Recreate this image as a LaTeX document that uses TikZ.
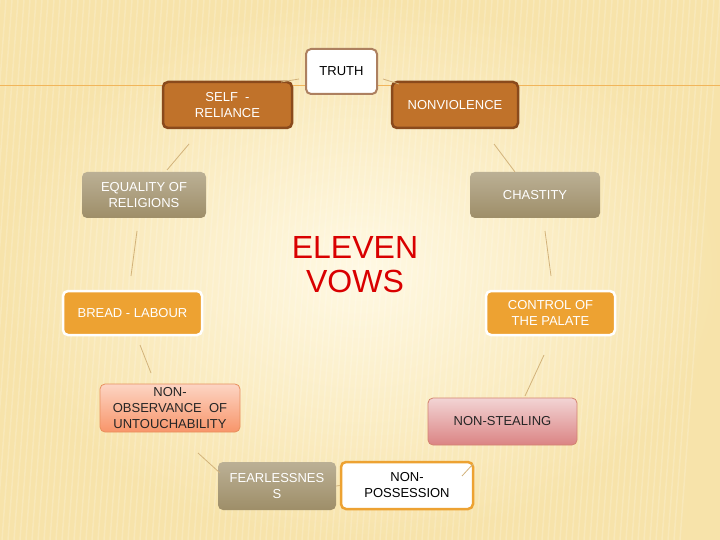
\documentclass[tikz,border=0pt]{standalone}
\usepackage{fontspec}
\setmainfont{Liberation Sans}
\definecolor{bgin}{HTML}{FFF9E4}
\definecolor{bgout}{HTML}{F7E3AA}
\definecolor{brownf}{HTML}{C0722A}
\definecolor{brownd}{HTML}{8A4A1C}
\definecolor{olive}{HTML}{9E8E68}
\definecolor{orangef}{HTML}{EDA232}
\definecolor{salmon}{HTML}{F8956A}
\definecolor{pinkf}{HTML}{DB8484}
\definecolor{conn}{HTML}{D2B27A}
\begin{document}
\begin{tikzpicture}[x=1pt,y=-1pt,
  box/.style={rounded corners=5pt,align=center,font=\fontsize{13}{16}\selectfont,inner sep=2pt},
  link/.style={conn,line width=0.8pt}]
\fill[inner color=bgin,outer color=bgout] (0,0) rectangle (720,540);
\useasboundingbox (0,0) rectangle (720,540);
\foreach \i in {0,6,...,720} \draw[white,opacity=0.18,line width=1.5pt] (\i,0) -- (\i-40,540);
\draw[orangef!80,line width=1pt] (0,86) -- (720,86);
% nodes
\node[box,draw=brownd!70,line width=2pt,fill=white,minimum width=71pt,minimum height=45pt] (truth) at (341.5,71.5) {TRUTH};
\node[box,draw=brownd,line width=2.5pt,fill=brownf,text=white,minimum width=129pt,minimum height=46pt] (sr) at (227.5,105) {SELF\ \ -\\RELIANCE};
\node[box,draw=brownd,line width=2.5pt,fill=brownf,text=white,minimum width=126pt,minimum height=46pt] (nv) at (455,105) {NONVIOLENCE};
\node[box,top color=olive!70,bottom color=olive,text=white,minimum width=124pt,minimum height=46pt] (eq) at (144,195) {EQUALITY OF\\RELIGIONS};
\node[box,top color=olive!70,bottom color=olive,text=white,minimum width=130pt,minimum height=46pt] (ch) at (535,195) {CHASTITY};
\node[box,draw=white,line width=2.5pt,fill=orangef,text=white,minimum width=139pt,minimum height=44pt] (br) at (132.5,313) {BREAD - LABOUR};
\node[box,draw=white,line width=2.5pt,fill=orangef,text=white,minimum width=129pt,minimum height=44pt] (co) at (550.5,313) {CONTROL OF\\THE PALATE};
\node[box,draw=salmon!70!brown,line width=0.8pt,top color=salmon!40,bottom color=salmon,text=black!85,minimum width=140pt,minimum height=48pt] (no) at (170,408) {NON-\\OBSERVANCE\ \ OF\\UNTOUCHABILITY};
\node[box,draw=pinkf!70!brown,line width=0.8pt,top color=pinkf!35,bottom color=pinkf,text=black!85,minimum width=149pt,minimum height=47pt] (ns) at (502.5,421.5) {NON-STEALING};
\node[box,top color=olive!70,bottom color=olive,text=white,minimum width=118pt,minimum height=48pt] (fe) at (277,486) {FEARLESSNES\\S};
\node[box,draw=orangef,line width=2.5pt,fill=white,minimum width=132pt,minimum height=47pt] (np) at (407,485.5) {NON-\\POSSESSION};
\node[text=red!85!black,align=center,font=\fontsize{32}{34}\selectfont] (title) at (355,265) {ELEVEN\\VOWS};
% connector end points
\coordinate (a1) at (281,82); \coordinate (a2) at (299,79);
\coordinate (b1) at (383,79); \coordinate (b2) at (399,84);
\coordinate (c1) at (189,144); \coordinate (c2) at (167,170);
\coordinate (d1) at (494,144); \coordinate (d2) at (515,172);
\coordinate (e1) at (137,231); \coordinate (e2) at (131,276);
\coordinate (f1) at (545,231); \coordinate (f2) at (551,276);
\coordinate (g1) at (140,345); \coordinate (g2) at (151,373);
\coordinate (h1) at (544,355); \coordinate (h2) at (525,396);
\coordinate (i1) at (198,453); \coordinate (i2) at (220,473);
\coordinate (j1) at (473,464); \coordinate (j2) at (462,476);
\draw[link] (a1)--(a2); \draw[link] (b1)--(b2); \draw[link] (c1)--(c2);
\draw[link] (d1)--(d2); \draw[link] (e1)--(e2); \draw[link] (f1)--(f2);
\draw[link] (g1)--(g2); \draw[link] (h1)--(h2); \draw[link] (i1)--(i2);
\draw[link] (j1)--(j2); \draw[link] (fe.east)--(np.west);
\end{tikzpicture}
\end{document}
